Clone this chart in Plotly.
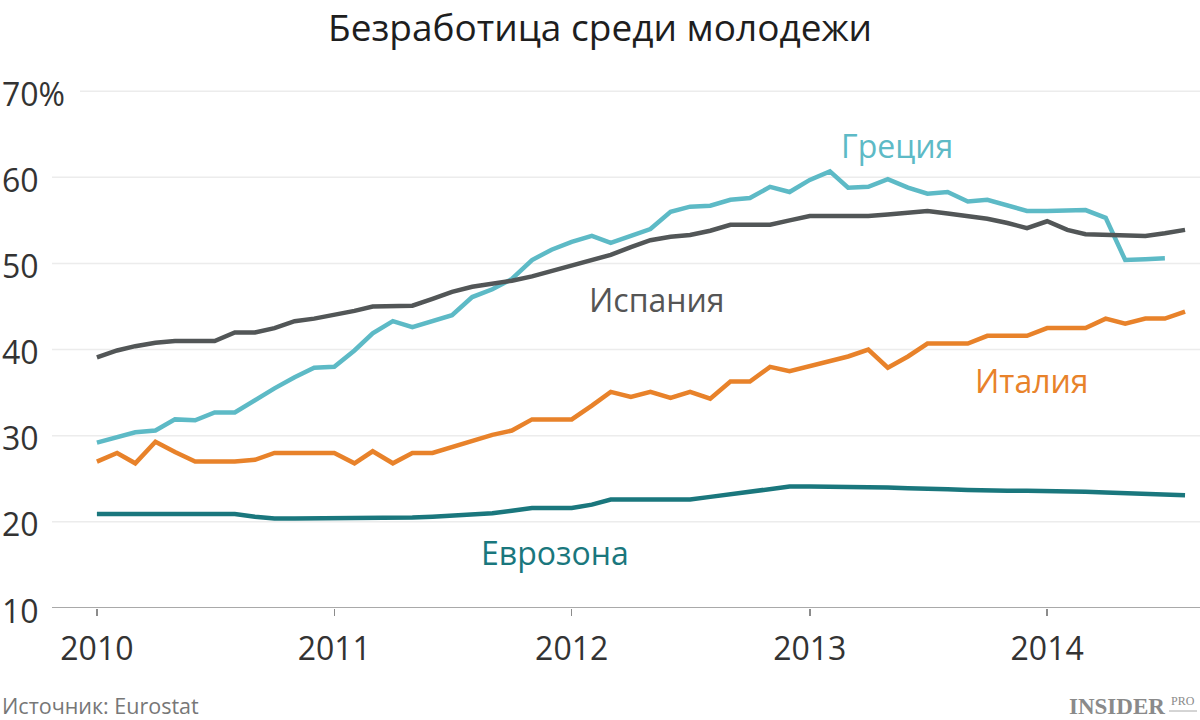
import pandas as pd
import plotly.graph_objects as go

# ---- data (monthly, from Jan 2010) ----
months = pd.date_range("2010-01-01", periods=56, freq="MS")

spain = [39.1, 39.9, 40.4, 40.8, 41.0, 41.0, 41.0, 42.0, 42.0, 42.5,
         43.3, 43.6, 44.0, 44.5, 45.0, 45.0, 45.1, 45.9, 46.7, 47.3,
         47.6, 48.0, 48.5, 49.1, 49.8, 50.4, 51.0, 51.9, 52.7, 53.1,
         53.3, 53.8, 54.5, 54.5, 54.5, 55.0, 55.5, 55.5, 55.5, 55.5,
         55.7, 55.9, 56.1, 55.8, 55.5, 55.2, 54.7, 54.1, 54.9, 53.9,
         53.4, 53.3, 53.2, 53.2, 53.5, 53.9]

greece = [29.2, 29.8, 30.4, 30.6, 31.9, 31.8, 32.7, 32.7, 34.2, 35.5,
          36.8, 37.9, 38.0, 39.9, 41.9, 43.3, 42.6, 43.3, 44.0, 46.1,
          47.0, 48.2, 50.4, 51.6, 52.5, 53.2, 52.4, 53.2, 54.0, 56.0,
          56.6, 56.7, 57.4, 57.6, 58.9, 58.3, 59.7, 60.7, 58.8, 58.9,
          59.8, 58.8, 58.1, 58.3, 57.2, 57.4, 56.7, 56.1, 56.1, 56.2,
          56.2, 55.3, 50.4, 50.5, 50.6]

italy = [27.0, 28.0, 26.8, 29.3, 28.1, 27.0, 27.0, 27.0, 27.2, 28.0,
         28.0, 28.0, 28.0, 26.8, 28.2, 26.8, 28.0, 28.0, 28.7, 29.3,
         30.1, 30.6, 31.9, 31.9, 31.9, 33.5, 35.1, 34.5, 35.1, 34.4,
         35.1, 34.3, 36.3, 36.3, 38.0, 37.5, 38.1, 38.7, 39.2, 40.0,
         37.9, 39.2, 40.7, 40.7, 40.7, 41.6, 41.6, 41.6, 42.5, 42.5,
         42.5, 43.6, 43.0, 43.6, 43.6, 44.4]

eurozone = [20.9, 20.9, 20.9, 20.9, 20.9, 20.9, 20.9, 20.9, 20.6, 20.4,
            20.4, 20.4, 20.4, 20.4, 20.4, 20.4, 20.5, 20.6, 20.7, 20.9,
            21.0, 21.3, 21.6, 21.6, 21.6, 22.0, 22.6, 22.6, 22.6, 22.6,
            22.6, 22.9, 23.2, 23.5, 23.9, 24.1, 24.1, 24.1, 24.1, 24.1,
            24.0, 23.9, 23.9, 23.8, 23.7, 23.6, 23.6, 23.6, 23.6, 23.6,
            23.5, 23.4, 23.3, 23.2, 23.1, 23.1]

y_ticks = [10, 20, 30, 40, 50, 60, 70]
y_tick_text = ["10", "20", "30", "40", "50", "60", "70%"]
x_ticks = ["2010-01-01", "2011-01-01", "2012-01-01", "2013-01-01", "2014-01-01"]
x_tick_text = ["2010", "2011", "2012", "2013", "2014"]

title = "Безработица среди молодежи"
source = "Источник: Eurostat"

C_GREECE = "#5dbac6"
C_SPAIN = "#525657"
C_ITALY = "#e8822a"
C_EURO = "#1a777d"
FONT = "Open Sans"

series = [
    ("Еврозона", eurozone, C_EURO),
    ("Италия", italy, C_ITALY),
    ("Греция", greece, C_GREECE),
    ("Испания", spain, C_SPAIN),
]

fig = go.Figure()
for name, vals, col in series:
    fig.add_trace(go.Scatter(
        x=months[:len(vals)], y=vals, mode="lines", name=name,
        line=dict(color=col, width=4.5), showlegend=False,
        hoverinfo="skip",
    ))

# gridlines + y labels
shapes = []
annotations = []
for v, t in zip(y_ticks, y_tick_text):
    x0 = 80 / 1200 if t.endswith("%") else 52 / 1200
    col = "#8c8c8c" if v == 10 else "#ececec"
    shapes.append(dict(type="line", xref="paper", yref="y", x0=x0, x1=1,
                       y0=v, y1=v, line=dict(color=col, width=1.5),
                       layer="below"))
    annotations.append(dict(xref="paper", yref="y", x=0, y=v, text=t,
                            xanchor="left", yanchor="middle", yshift=-2,
                            showarrow=False,
                            font=dict(family=FONT, size=32, color="#333333")))

# series labels
labels = [
    ("Греция", "2013-05-15", 63.7, C_GREECE),
    ("Испания", "2012-05-11", 45.8, "#555555"),
    ("Италия", "2013-12-08", 36.4, C_ITALY),
    ("Еврозона", "2011-12-06", 16.4, C_EURO),
]
for txt, xd, yv, col in labels:
    annotations.append(dict(x=xd, y=yv, xref="x", yref="y", text=txt,
                            showarrow=False, xanchor="center", yanchor="middle",
                            font=dict(family=FONT, size=32, color=col)))

# title
annotations.append(dict(xref="paper", yref="paper", x=0.5, y=1, yshift=48,
                        text=title, showarrow=False, xanchor="center",
                        yanchor="middle",
                        font=dict(family=FONT, size=37, color="#1e1e1e")))
# source
annotations.append(dict(xref="paper", yref="paper", x=0, y=0, yshift=-97,
                        text=source, showarrow=False, xanchor="left",
                        yanchor="middle",
                        font=dict(family=FONT, size=21.5, color="#777777")))
# logo
annotations.append(dict(xref="paper", yref="paper", x=1, y=0, yshift=-98,
                        xshift=-33,
                        text="<b>INSIDER</b>", showarrow=False, xanchor="right",
                        yanchor="middle",
                        font=dict(family="Liberation Serif", size=23,
                                  color="#8a8a8a")))
annotations.append(dict(xref="paper", yref="paper", x=1, y=0, yshift=-93,
                        xshift=-3,
                        text="PRO", showarrow=False, xanchor="right",
                        yanchor="middle",
                        font=dict(family="Liberation Serif", size=12,
                                  color="#8a8a8a")))
shapes.append(dict(type="line", xref="paper", yref="paper",
                   x0=1 - 31 / 1200, x1=1 - 3 / 1200,
                   y0=-(103 / 534), y1=-(103 / 534),
                   line=dict(color="#aaaaaa", width=1)))

fig.update_layout(
    width=1200, height=720,
    margin=dict(l=0, r=0, t=74, b=112),
    paper_bgcolor="white", plot_bgcolor="white",
    shapes=shapes, annotations=annotations,
    xaxis=dict(type="date", range=["2009-08-05", "2014-08-24"],
               tickvals=x_ticks, ticktext=x_tick_text,
               ticks="outside", ticklen=7, tickwidth=1.5, tickcolor="#8c8c8c",
               showgrid=False, showline=False, zeroline=False,
               tickfont=dict(family=FONT, size=32, color="#333333"),
               ticklabelstandoff=6),
    yaxis=dict(range=[10, 72], showgrid=False, zeroline=False,
               showticklabels=False, showline=False),
)

fig.write_html("out.html",
               config={"displayModeBar": False, "staticPlot": True},
               post_script="document.body.style.margin='0px';"
                           "document.body.style.overflow='hidden';")
